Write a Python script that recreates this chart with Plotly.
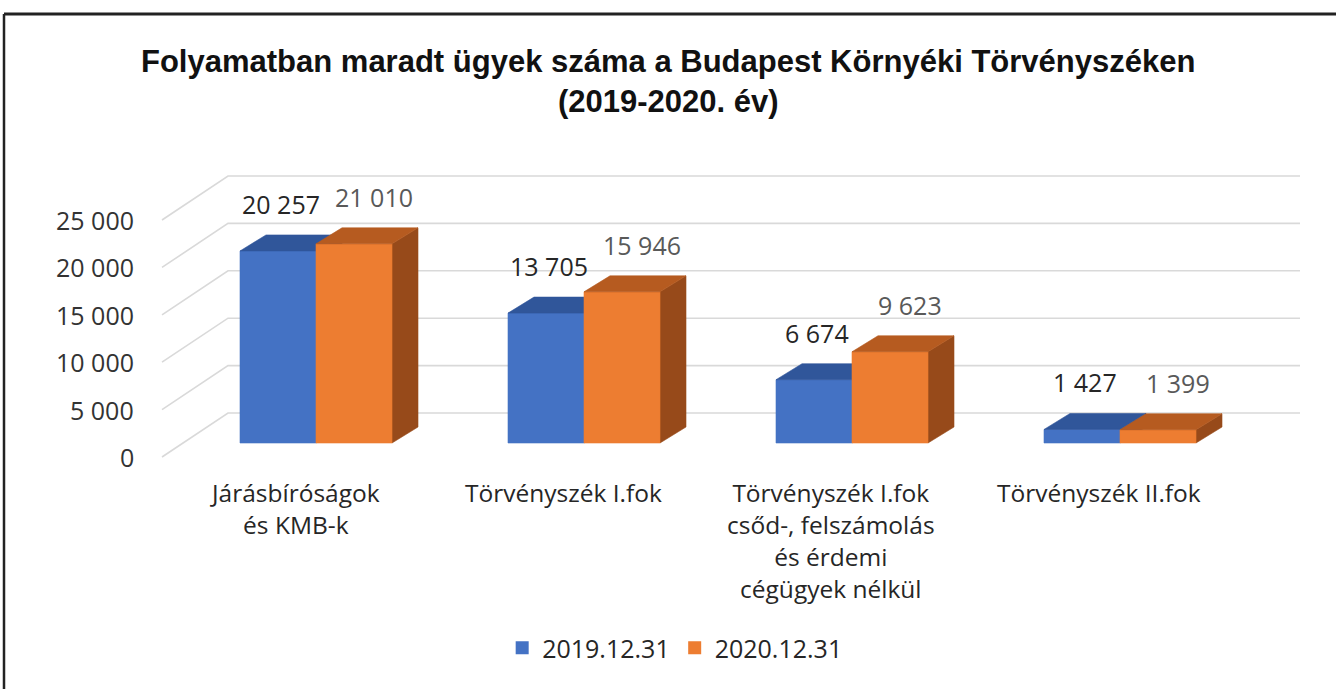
import plotly.graph_objects as go

# ---------------- data ----------------
categories = [
    "Járásbíróságok<br>és KMB-k",
    "Törvényszék I.fok",
    "Törvényszék I.fok<br>csőd-, felszámolás<br>és érdemi<br>cégügyek nélkül",
    "Törvényszék II.fok",
]
series_names = ["2019.12.31", "2020.12.31"]
values_2019 = [20257, 13705, 6674, 1427]
values_2020 = [21010, 15946, 9623, 1399]
tick_values = [0, 5000, 10000, 15000, 20000, 25000]
tick_labels = ["0", "5 000", "10 000", "15 000", "20 000", "25 000"]
title_text = ("<b>Folyamatban maradt ügyek száma a Budapest Környéki Törvényszéken</b><br>"
              "<b>(2019-2020. év)</b>")

# ---------------- style / geometry ----------------
W_PX, H_PX = 1336, 689
PX_PER_CAT = 268.0          # horizontal pixels per category step
PX_PER_UNIT = 0.00948       # vertical pixels per value unit
U = 1.0 / PX_PER_UNIT       # value units per pixel
CAT0_PX = 316.0             # pixel x of first category centre (bar plane)
BASE_PX = 443.0             # pixel y of bar bottom (bar front plane)

BAR_W = 76 / PX_PER_CAT
DXB, DYB = 26 / PX_PER_CAT, 16 * U          # bar depth
DXF, DYF = 21 / PX_PER_CAT, 14 * U          # front plane offset
WALL_DX, WALL_DY = 66 / PX_PER_CAT, 44 * U  # whole floor depth
WALL_LEFT = (162 - CAT0_PX) / PX_PER_CAT
WALL_RIGHT = (1300 - CAT0_PX) / PX_PER_CAT

x_range = [(0 - CAT0_PX) / PX_PER_CAT, (W_PX - CAT0_PX) / PX_PER_CAT]
y_range = [(BASE_PX - H_PX) * U, BASE_PX * U]

colors = {
    0: dict(front="#4472C4", top="#30569A", side="#2B4D8A"),
    1: dict(front="#ED7D31", top="#B65B20", side="#974A1A"),
}
label_colors = ["#262626", "#595959"]
label_dx_px = [3, 20]
FONT = "'Open Sans', 'Noto Sans', sans-serif"

fig = go.Figure()

# ---- back wall gridlines ----
gx, gy = [], []
for t in tick_values:
    y_front = t - DYF
    y_back = t - DYF + WALL_DY
    gx += [WALL_LEFT, WALL_LEFT + WALL_DX, WALL_RIGHT, None]
    gy += [y_front, y_back, y_back, None]
fig.add_trace(go.Scatter(x=gx, y=gy, mode="lines", line=dict(color="#D9D9D9", width=1.6),
                         hoverinfo="skip", showlegend=False))

# ---- 3D bars ----
all_values = [values_2019, values_2020]
for s, vals in enumerate(all_values):
    fx, fy, tx, ty, sx, sy = [], [], [], [], [], []
    for i, v in enumerate(vals):
        x0 = i - BAR_W + s * BAR_W
        x1 = x0 + BAR_W
        fx += [x0, x1, x1, x0, x0, None]
        fy += [0, 0, v, v, 0, None]
        tx += [x0, x1, x1 + DXB, x0 + DXB, x0, None]
        ty += [v, v, v + DYB, v + DYB, v, None]
        sx += [x1, x1 + DXB, x1 + DXB, x1, x1, None]
        sy += [0, DYB, v + DYB, v, 0, None]
    c = colors[s]
    for xs, ys, col in [(sx, sy, c["side"]), (fx, fy, c["front"]), (tx, ty, c["top"])]:
        fig.add_trace(go.Scatter(x=xs, y=ys, mode="lines", fill="toself", fillcolor=col,
                                 line=dict(color=col, width=0.6), hoverinfo="skip",
                                 showlegend=False))

# ---- legend entries ----
for s, name in enumerate(series_names):
    fig.add_trace(go.Scatter(x=[None], y=[None], mode="markers", name=name,
                             marker=dict(symbol="square", size=13, color=colors[s]["front"])))

annotations = []
# ---- value labels ----
for s, vals in enumerate(all_values):
    for i, v in enumerate(vals):
        xc = i - BAR_W + s * BAR_W + BAR_W / 2 + label_dx_px[s] / PX_PER_CAT
        txt = f"{v:,}".replace(",", " ")
        annotations.append(dict(x=xc, y=v + DYB, xref="x", yref="y", text=txt, showarrow=False,
                                yshift=31, yanchor="middle", xanchor="center",
                                font=dict(family=FONT, size=25, color=label_colors[s])))

# ---- y tick labels ----
for t, lab in zip(tick_values, tick_labels):
    annotations.append(dict(x=136 / W_PX, y=t - DYF, xref="paper", yref="y", text=lab,
                            showarrow=False, xanchor="right", yanchor="middle",
                            font=dict(family=FONT, size=25, color="#333333")))

# ---- category labels ----
for i, cat in enumerate(categories):
    annotations.append(dict(x=i - DXF, y=1 - 474 / H_PX, xref="x", yref="paper", text=cat,
                            showarrow=False, xanchor="center", yanchor="top", align="center",
                            font=dict(family=FONT, size=24.5, color="#262626")))

# ---- title ----
annotations.append(dict(x=0.5, y=1 - 42 / H_PX, xref="paper", yref="paper", text=title_text,
                        showarrow=False, xanchor="center", yanchor="top", align="center",
                        font=dict(family="'Liberation Sans', Arial, sans-serif", size=31,
                                  color="#111111")))

shapes = [
    dict(type="line", xref="paper", yref="paper", x0=4 / W_PX, x1=1.01, y0=1 - 14 / H_PX,
         y1=1 - 14 / H_PX, line=dict(color="#222222", width=3)),
    dict(type="line", xref="paper", yref="paper", x0=4 / W_PX, x1=4 / W_PX, y0=1 - 14 / H_PX,
         y1=-0.02, line=dict(color="#222222", width=2.5)),
]

fig.update_layout(
    width=W_PX, height=H_PX,
    margin=dict(l=0, r=0, t=0, b=0),
    paper_bgcolor="white", plot_bgcolor="white",
    xaxis=dict(range=x_range, visible=False, fixedrange=True),
    yaxis=dict(range=y_range, visible=False, fixedrange=True),
    annotations=annotations,
    shapes=shapes,
    showlegend=True,
    legend=dict(orientation="h", x=0.505, y=1 - 648 / H_PX, xanchor="center", yanchor="middle",
                font=dict(family=FONT, size=25, color="#262626"), itemwidth=30,
                bgcolor="rgba(0,0,0,0)"),
    hovermode=False,
)

fig.write_html("out.html", config={"displayModeBar": False},
               post_script="document.body.style.margin='0px';")
